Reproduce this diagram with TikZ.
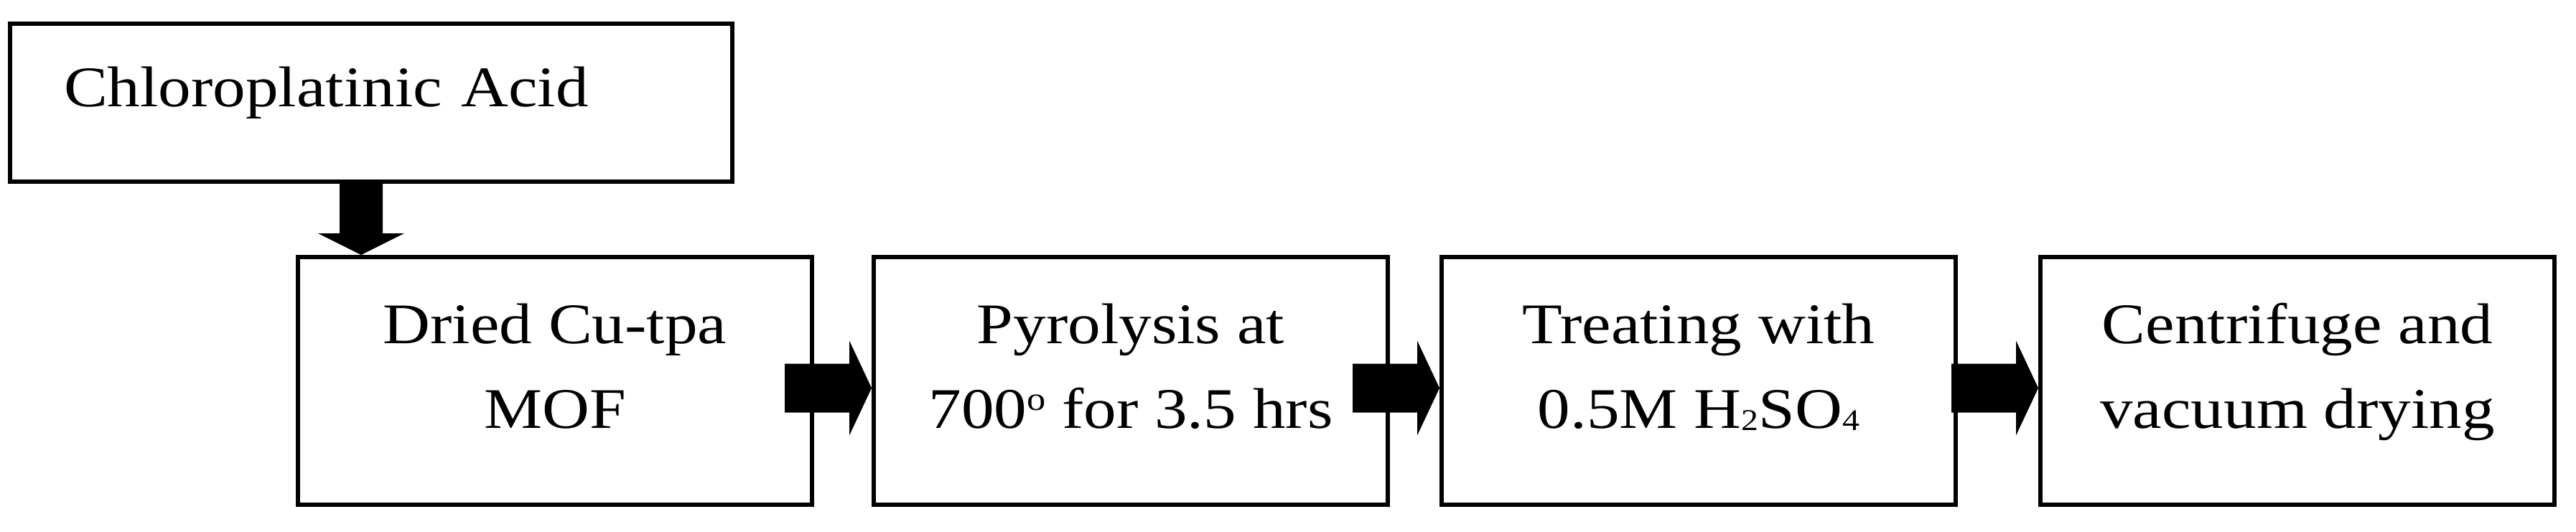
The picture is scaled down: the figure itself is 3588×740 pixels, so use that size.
\documentclass[tikz,border=0pt]{standalone}
\usepackage{fontspec}
\setmainfont[FakeStretch=1.14]{Liberation Serif}
\usetikzlibrary{calc}
\newcommand\vstrut[2]{\rule[-#2pt]{0pt}{\dimexpr #1pt + #2pt\relax}}
\newcommand\degsup{\raisebox{25pt}{\fontsize{46}{46}\selectfont o}}
\newcommand\chemsub[1]{\raisebox{-3pt}{\fontsize{42}{42}\selectfont #1}}
% horizontal block arrow ending at the west side of node #2
\newcommand\hblock[2]{%
  \fill[blockfill] ($(#2.west)+(-121,-24)$) -- ($(#2.west)+(-31,-24)$) -- ($(#2.west)+(-31,-56)$)
    -- ($(#2.west)+(0,10)$) -- ($(#2.west)+(-31,76)$) -- ($(#2.west)+(-31,44)$)
    -- ($(#2.west)+(-121,44)$) -- cycle;}
\begin{document}
\begin{tikzpicture}[x=1pt,y=-1pt,
  blockfill/.style={fill=black},
  box/.style={draw=black, line width=6pt, minimum width=716pt, minimum height=345pt,
    inner sep=0pt, align=center, font=\fontsize{80}{118}\selectfont},
  topbox/.style={draw=black, line width=6pt, minimum width=1006pt, minimum height=220pt,
    inner xsep=75pt, inner ysep=0pt, text width=856pt, align=left,
    font=\fontsize{80}{118}\selectfont}]
\useasboundingbox (0,0) rectangle (3588,740);

\node[topbox] (top) at (517,143) {\vstrut{70}{60}Chloroplatinic Acid};

\node[box] (b1) at (773,530.5)  {\vstrut{62}{49}Dried Cu-tpa\\MOF\vstrut{62}{49}};
\node[box] (b2) at (1575,530.5) {\vstrut{62}{49}Pyrolysis at\\700\degsup{} for 3.5 hrs\vstrut{62}{49}};
\node[box] (b3) at (2366,530.5) {\vstrut{62}{49}Treating with\\0.5M H\chemsub{2}SO\chemsub{4}\vstrut{62}{49}};
\node[box] (b4) at (3200,530.5) {\vstrut{62}{49}Centrifuge and\\vacuum drying\vstrut{62}{49}};

% down arrow from the top box to the first step
\path (top.south) ++(-14,0) coordinate (ds);
\coordinate (dt) at (ds |- b1.north);
\fill[blockfill] ($(ds)+(-30,0)$) -- ($(dt)+(-30,-30)$) -- ($(dt)+(-60,-30)$) -- (dt)
  -- ($(dt)+(60,-30)$) -- ($(dt)+(30,-30)$) -- ($(ds)+(30,0)$) -- cycle;

\hblock{b1}{b2}
\hblock{b2}{b3}
\hblock{b3}{b4}
\end{tikzpicture}
\end{document}
